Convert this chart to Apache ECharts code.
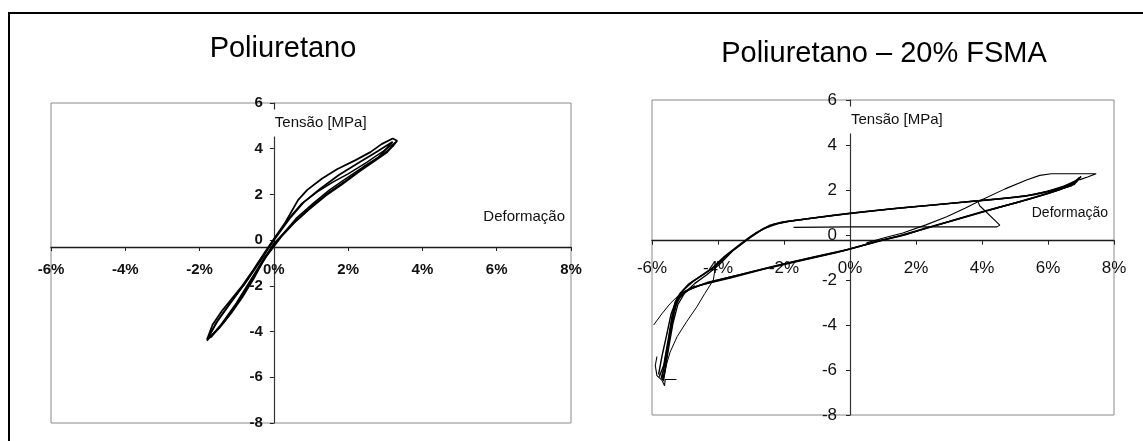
<!DOCTYPE html>
<html>
<head>
<meta charset="utf-8">
<script src="https://cdn.jsdelivr.net/npm/echarts@6/dist/echarts.min.js"></script>
<style>
html,body{margin:0;padding:0;background:#fff;}
#c{width:1143px;height:441px;}
</style>
</head>
<body>
<div id="c"></div>
<script>
// ---------------- DATA ----------------
const titles = ['Poliuretano', 'Poliuretano \u2013 20% FSMA'];
const xTicks = [-6, -4, -2, 0, 2, 4, 6, 8];      // Deformação [%]
const yTicks = [-8, -6, -4, -2, 0, 2, 4, 6];     // Tensão [MPa]
const xName = 'Deformação';
const yName = 'Tensão [MPa]';

// Poliuretano : cycles [deformação %, tensão MPa]
const puCycle1 = [[-1.80,-4.35],[-1.65,-3.70],[-1.40,-3.10],[-1.15,-2.60],[-0.85,-2.00],[-0.55,-1.30],[-0.25,-0.55],[0.00,0.05],[0.30,0.75],[0.65,1.75],[0.90,2.20],[1.30,2.70],[1.70,3.10],[2.20,3.50],[2.60,3.85],[2.90,4.20],[3.20,4.45],[3.32,4.35],[3.05,3.85],[2.70,3.45],[2.30,3.00],[1.80,2.40],[1.40,1.95],[0.95,1.35],[0.50,0.70],[0.15,0.10],[0.00,-0.15],[-0.30,-0.95],[-0.55,-1.70],[-0.85,-2.50],[-1.15,-3.20],[-1.45,-3.80],[-1.75,-4.30]];
const puCycle2 = [[-1.75,-4.20],[-1.50,-3.50],[-1.10,-2.60],[-0.70,-1.70],[-0.35,-0.85],[0.00,0.00],[0.45,1.00],[0.80,1.65],[1.25,2.25],[1.75,2.85],[2.25,3.35],[2.75,3.85],[3.20,4.30],[3.25,4.25],[2.80,3.60],[2.35,3.10],[1.90,2.55],[1.45,2.05],[1.00,1.45],[0.60,0.85],[0.20,0.15],[-0.20,-0.70],[-0.60,-1.75],[-1.00,-2.80],[-1.35,-3.60],[-1.70,-4.25]];
const puCycle3 = [[-1.80,-4.40],[-1.55,-3.60],[-1.20,-2.80],[-0.80,-1.95],[-0.40,-1.00],[-0.05,-0.10],[0.35,0.85],[0.75,1.60],[1.20,2.15],[1.60,2.55],[2.00,2.90],[2.50,3.40],[2.95,3.90],[3.30,4.30],[3.20,4.10],[2.85,3.65],[2.40,3.20],[1.95,2.70],[1.50,2.20],[1.05,1.60],[0.60,0.95],[0.10,0.00],[-0.25,-0.75],[-0.65,-1.80],[-1.05,-2.85],[-1.45,-3.75],[-1.80,-4.40]];

// Poliuretano – 20% FSMA : cycles [deformação %, tensão MPa]
const fsmaCycle1 = [[-5.70,-6.40],[-5.62,-5.60],[-5.50,-4.60],[-5.40,-3.70],[-5.30,-3.00],[-5.15,-2.60],[-4.90,-2.20],[-4.55,-1.85],[-4.20,-1.50],[-3.80,-0.95],[-3.40,-0.50],[-3.00,-0.05],[-2.60,0.30],[-2.20,0.50],[-1.80,0.62],[-1.00,0.78],[0.00,0.97],[1.00,1.12],[2.00,1.27],[3.00,1.40],[4.10,1.55],[5.00,1.68],[5.60,1.80],[6.20,2.00],[6.60,2.20],[6.90,2.45],[7.00,2.60],[6.85,2.35],[6.40,2.05],[6.00,1.85],[5.00,1.42],[4.00,1.03],[3.00,0.60],[2.10,0.22],[1.50,-0.05],[0.90,-0.25],[0.30,-0.50],[0.00,-0.62],[-1.00,-0.95],[-1.90,-1.25],[-3.10,-1.68],[-4.10,-2.05],[-4.70,-2.30],[-5.10,-2.60],[-5.30,-3.20],[-5.45,-4.20],[-5.55,-5.20],[-5.65,-6.00],[-5.72,-6.35]];
const fsmaCycle2 = [[-5.80,-6.20],[-5.70,-5.40],[-5.55,-4.40],[-5.42,-3.50],[-5.25,-2.85],[-5.05,-2.45],[-4.75,-2.05],[-4.40,-1.72],[-4.05,-1.35],[-3.65,-0.80],[-3.25,-0.35],[-2.85,0.10],[-2.45,0.42],[-2.05,0.58],[-1.50,0.68],[-0.50,0.88],[0.50,1.05],[1.50,1.20],[2.50,1.33],[3.50,1.47],[4.50,1.60],[5.30,1.72],[5.90,1.90],[6.40,2.10],[6.80,2.35],[6.95,2.55],[6.80,2.25],[6.30,1.98],[5.50,1.62],[4.50,1.22],[3.50,0.80],[2.60,0.42],[1.90,0.12],[1.20,-0.15],[0.50,-0.42],[-0.20,-0.70],[-1.20,-1.02],[-2.20,-1.35],[-3.30,-1.75],[-4.30,-2.10],[-4.85,-2.40],[-5.20,-2.80],[-5.38,-3.60],[-5.50,-4.70],[-5.62,-5.70],[-5.78,-6.30]];
const fsmaCycle3 = [[-5.65,-6.50],[-5.58,-5.80],[-5.48,-4.90],[-5.36,-3.90],[-5.22,-3.10],[-5.00,-2.55],[-4.70,-2.15],[-4.35,-1.78],[-3.95,-1.30],[-3.55,-0.70],[-3.10,-0.20],[-2.70,0.20],[-2.30,0.48],[-1.90,0.60],[-1.20,0.74],[0.00,0.95],[1.20,1.15],[2.40,1.32],[3.60,1.48],[4.60,1.62],[5.40,1.76],[6.00,1.95],[6.50,2.18],[6.85,2.42],[6.95,2.50],[6.70,2.18],[6.10,1.90],[5.20,1.50],[4.20,1.10],[3.20,0.68],[2.30,0.30],[1.70,0.02],[1.00,-0.22],[0.40,-0.45],[-0.40,-0.78],[-1.50,-1.15],[-2.60,-1.52],[-3.60,-1.90],[-4.50,-2.22],[-5.00,-2.50],[-5.25,-2.95],[-5.40,-3.90],[-5.52,-5.00],[-5.60,-5.90],[-5.68,-6.45]];
const fsmaFirstLoop = [[0.50,-0.35],[1.10,-0.10],[1.60,0.09],[2.30,0.45],[2.93,0.81],[3.50,1.20],[3.98,1.56],[4.70,2.05],[5.35,2.44],[5.75,2.65],[6.10,2.72],[6.80,2.72],[7.46,2.72],[7.20,2.58],[6.95,2.45]];
const fsmaUnload = [[3.88,1.48],[3.93,1.30],[4.54,0.44],[4.45,0.36],[2.00,0.36],[0.00,0.36],[-1.71,0.34]];
const fsmaLeftA = [[-5.95,-4.00],[-5.70,-3.50],[-5.45,-3.05],[-5.14,-2.60],[-4.70,-2.25]];
const fsmaLeftB = [[-4.00,-1.15],[-4.10,-1.60],[-4.14,-2.00],[-4.40,-2.60],[-4.64,-3.19],[-4.95,-3.85],[-5.24,-4.52],[-5.45,-5.20],[-5.55,-5.70],[-5.62,-6.20]];
const fsmaTip = [[-5.85,-5.40],[-5.90,-5.80],[-5.85,-6.25],[-5.70,-6.45],[-5.62,-6.70],[-5.60,-6.42],[-5.26,-6.42]];

// ---------------- CHART ----------------
const FONT = '"Liberation Sans", Arial, sans-serif';
const chart = echarts.init(document.getElementById('c'), null, {renderer: 'canvas'});

const grids = [
  {left: 51, right: 572, top: 103, bottom: 18},
  {left: 652, right: 29, top: 100, bottom: 26}
];
const panelStyle = [
  {tickSize: 15, tickWeight: 'bold', xMargin: 15, yMargin: 11},
  {tickSize: 17, tickWeight: 'normal', xMargin: 19, yMargin: 13}
];

function xAxisFor(i) {
  const s = panelStyle[i];
  return {
    gridIndex: i, type: 'value', position: 'bottom', min: xTicks[0], max: xTicks[xTicks.length - 1], interval: 2,
    axisLine: {onZero: false, lineStyle: {color: '#1a1a1a', width: 1.4}},
    axisTick: {show: true, length: 4, lineStyle: {color: '#222'}},
    splitLine: {show: false},
    axisLabel: {formatter: '{value}%', color: '#111', fontFamily: FONT, fontSize: s.tickSize, fontWeight: s.tickWeight, margin: s.xMargin}
  };
}
function yAxisFor(i) {
  const s = panelStyle[i];
  return {
    gridIndex: i, type: 'value', position: 'left', min: yTicks[0], max: yTicks[yTicks.length - 1], interval: 2,
    axisLine: {onZero: false, lineStyle: {color: '#333', width: 1.2}},
    axisTick: {show: true, length: 4, lineStyle: {color: '#222'}},
    splitLine: {show: false},
    axisLabel: {color: '#111', fontFamily: FONT, fontSize: s.tickSize, fontWeight: s.tickWeight, margin: s.yMargin}
  };
}
function curve(data, i, w) {
  return {type: 'line', xAxisIndex: i, yAxisIndex: i, data: data, showSymbol: false, symbol: 'none',
          smooth: false, lineStyle: {color: '#000', width: w}, silent: true, z: 3};
}

const option = {
  animation: false,
  backgroundColor: '#fff',
  title: [
    {text: titles[0], left: 283, top: 34, textAlign: 'center', padding: 0,
     textStyle: {fontFamily: FONT, fontSize: 29, fontWeight: 'normal', color: '#000'}},
    {text: titles[1], left: 884, top: 39, textAlign: 'center', padding: 0,
     textStyle: {fontFamily: FONT, fontSize: 29, fontWeight: 'normal', color: '#000'}}
  ],
  grid: grids.map(g => Object.assign({show: true, borderColor: '#8a8a8a', borderWidth: 1, containLabel: false}, g)),
  xAxis: [xAxisFor(0), xAxisFor(1)],
  yAxis: [yAxisFor(0), yAxisFor(1)],
  series: [
    curve(puCycle1, 0, 1.8), curve(puCycle2, 0, 1.8), curve(puCycle3, 0, 1.5),
    curve(fsmaCycle1, 1, 1.6), curve(fsmaCycle2, 1, 1.4), curve(fsmaCycle3, 1, 1.3),
    curve(fsmaFirstLoop, 1, 1.1), curve(fsmaUnload, 1, 1.1),
    curve(fsmaLeftA, 1, 1.0), curve(fsmaLeftB, 1, 1.0), curve(fsmaTip, 1, 1.1)
  ]
};
chart.setOption(option);

// move each axis (line, ticks, labels) onto the other axis' zero, using the scales
const xOff = [], yOff = [];
for (let i = 0; i < 2; i++) {
  const origin = chart.convertToPixel({xAxisIndex: i, yAxisIndex: i}, [0, 0]);
  const corner = chart.convertToPixel({xAxisIndex: i, yAxisIndex: i}, [xTicks[0], yTicks[0]]);
  xOff.push(origin[1] - corner[1]);
  yOff.push(corner[0] - origin[0]);
}

const graphics = [{
  type: 'rect', z: 200, silent: true,
  shape: {x: 9, y: 13, width: 1200, height: 500},
  style: {fill: 'none', stroke: '#000', lineWidth: 2}
}];
for (let i = 0; i < 2; i++) {
  const top = chart.convertToPixel({xAxisIndex: i, yAxisIndex: i}, [0, yTicks[yTicks.length - 1]]);
  const rightZero = chart.convertToPixel({xAxisIndex: i, yAxisIndex: i}, [xTicks[xTicks.length - 1], 0]);
  graphics.push({
    type: 'text', z: 200, silent: true, x: top[0] - 2, y: top[1] + 20,
    style: {text: yName, fill: '#111', font: '15px ' + FONT, align: 'left', verticalAlign: 'middle',
            backgroundColor: '#fff', padding: [6, 2, 6, 3]}
  });
  graphics.push({
    type: 'text', z: 200, silent: true, x: rightZero[0] - 6, y: rightZero[1] - 18,
    style: {text: xName, fill: '#111', font: (i === 0 ? 15 : 14) + 'px ' + FONT, align: 'right', verticalAlign: 'middle'}
  });
}
chart.setOption({
  xAxis: [{offset: xOff[0]}, {offset: xOff[1]}],
  yAxis: [{offset: yOff[0]}, {offset: yOff[1]}],
  graphic: graphics
});
</script>
</body>
</html>
